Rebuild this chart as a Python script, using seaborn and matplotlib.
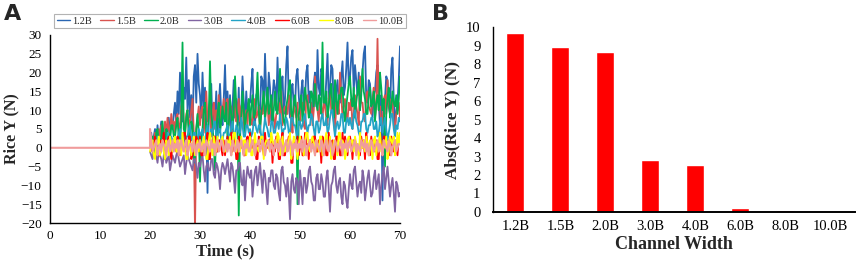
import numpy as np
import pandas as pd
import matplotlib
matplotlib.use("Agg")
import matplotlib.pyplot as plt
import seaborn as sns

# ---------------- data ----------------
series_names = ["1.2B", "1.5B", "2.0B", "3.0B", "4.0B", "6.0B", "8.0B", "10.0B"]
series_colors = ["#2A66B2", "#D9534F", "#00B050", "#8064A2", "#23A3C6", "#FF0000", "#FFFF00", "#F09C9C"]

t_start, t_end, n_pts = 20.0, 70.0, 201

rice_12B = [2, 4, 0, 3, 5, 1, 6, 2, 4, 7, 3, 5, 1, 6, 4, 8, 3, 7, 5, 9,
            12, 6, 15, 9, 20, 11, 7, 16, 13, 24, 10, 18, 8, 14, 5, 19, 22, 12, 25, 17,
            14, 8, 20, 11, 16, 6, -12, 9, 13, 17, 5, 12, 8, 15, 3, 11, 17, 9, 6, 13,
            22, 10, 15, 7, 14, 4, 11, 18, 8, 13, 6, 16, 2, 10, 19, 12, 7, 15, 9, 12,
            12, 17, 21, 8, 6, 14, 15, 10, 9, 19, 18, 11, 25, 14, 11, 20, 16, 7, 13, 18,
            16, 10, 24, 13, 10, 17, 19, 9, 13, 22, 27, 12, 8, 15, 17, 11, 11, 19, 21, 14,
            9, 15, 18, 10, 13, 20, 22, 12, 15, 9, 8, 17, 20, 11, 26, 16, 14, 21, 19, 12,
            11, 18, 25, 13, 16, 22, 21, 10, 7, 15, 18, 12, 12, 19, 23, 14, 16, 21, 28, 17,
            19, 24, 26, 15, 22, 18, 14, 20, 10, 16, 20, 25, 27, 13, 12, 18, 17, 11, 8, 14,
            15, 20, 22, 12, 6, 14, -14, 10, 13, 19, 18, 11, 9, 21, 24, 13, 5, 10, 12, 18,
            27]
rice_15B = [1, 3, 0, 2, 4, 1, 2, 5, 3, 6, 2, 4, 7, 3, 8, 5, 4, 9, 6, 7,
            4, 8, 9, 5, 6, 11, 12, 7, 3, 9, 10, 6, 7, 10, 13, 4, -22, 5, 8, 11,
            6, 10, 11, 4, 8, 15, 7, 9, 12, 3, 9, 12, 5, 10, 8, 14, 6, 11, 9, 13,
            8, 12, 13, 6, 10, 11, 4, 9, 14, 7, 9, 13, 7, 11, 12, 5, 8, 10, 6, 12,
            10, 7, 6, 12, 13, 8, 9, 11, 4, 10, 9, 14, 7, 11, 12, 6, 9, 13, 10, 8,
            5, 9, 10, 12, 8, 15, 6, 10, 11, 9, 9, 14, 13, 7, 4, 11, 10, 8, 12, 6,
            7, 11, 12, 6, 5, 13, 14, 9, 9, 12, 6, 10, 19, 13, 10, 7, 13, 11, 8, 12,
            11, 8, 6, 13, 15, 10, 9, 7, 4, 12, 12, 9, 20, 14, 8, 11, 13, 9, 7, 12,
            10, 13, 5, 9, 14, 11, 9, 6, 19, 12, 12, 8, 7, 14, 15, 11, 10, 9, 13, 16,
            8, 11, 29, 10, 11, 7, 6, 13, 14, 9, 18, 12, 9, 13, 12, 6, 5, 9, 10, 12,
            8]
rice_20B = [0, 2, 3, -1, -2, 4, 5, 1, 1, 3, 7, 2, -3, 5, 4, 0, 2, 6, 6, 3,
            3, 6, 8, 2, 1, 7, 28, 5, 4, 8, 10, 3, 2, 7, 6, -4, -3, 5, 9, 4,
            -9, 2, 5, 10, 12, 4, 3, 8, 23, 9, 6, 1, -6, 5, 9, 12, 4, 7, 11, 8,
            7, 12, 2, 6, 13, 9, 5, 10, 19, 11, 8, -18, 4, 8, 15, 10, 4, 9, 10, 13,
            6, 11, 14, 8, 9, 13, 20, 10, 5, 9, 12, 15, 8, 11, 16, 9, 11, 14, 7, 10,
            15, 10, 9, 14, 21, 12, 10, 7, 6, 11, 13, 16, 18, 9, 8, 12, 14, 10, -15, 9,
            11, 14, 7, 10, 16, 13, 12, 8, 9, 15, 14, 11, 17, 12, 10, 14, 13, 9, 28, 12,
            12, 15, 8, 11, 15, 17, 10, 8, 18, 13, 9, 14, 13, 16, 16, 10, 7, 11, 14, 17,
            19, 13, 11, 16, 8, 12, 15, 18, 10, 14, 21, 15, 13, 9, 9, 14, 16, 11, 12, 15,
            7, 12, 14, 10, 20, 16, 10, 13, -5, 9, 13, 16, 8, 11, 15, 12, 11, 14, 9, 13,
            19]
rice_30B = [-1, -2, -3, 0, 0, -2, -4, -1, -2, -3, -5, -2, -1, -4, -3, -2, -6, -4, -2, -3,
            -4, -2, -1, -3, -5, -4, -3, -2, -7, -4, -2, -3, -4, -5, -6, -3, -3, -5, -8, -4,
            -5, -3, -2, -6, -9, -5, -4, -6, -6, -3, -3, -7, -8, -4, -5, -7, -11, -6, -4, -5,
            -7, -5, -3, -6, -9, -4, -5, -8, -12, -6, -6, -4, -4, -9, -10, -6, -14, -8, -5, -7,
            -8, -6, -13, -9, -6, -5, -10, -7, -4, -8, -12, -6, -7, -11, -15, -8, -9, -6, -6, -10,
            -11, -7, -8, -12, -14, -6, -5, -9, -10, -13, -8, -12, -19, -9, -7, -11, -12, -8, -9, -15,
            -6, -10, -15, -8, -8, -12, -10, -6, -5, -9, -10, -14, -14, -8, -7, -11, -11, -7, -9, -13,
            -13, -8, -6, -11, -17, -10, -9, -6, -5, -10, -12, -9, -8, -13, -15, -9, -10, -14, -16, -11,
            -7, -10, -11, -6, -5, -9, -13, -10, -9, -12, -6, -8, -14, -11, -8, -6, -10, -13, -12, -8,
            -6, -11, -9, -7, -15, -10, -7, -5, -11, -8, -5, -9, -13, -10, -8, -12, -17, -9, -10, -13,
            -12]
rice_40B = [1, 0, -1, 2, 2, 0, 3, 1, -2, 1, 2, 3, 1, -1, 4, 2, 0, 3, 2, 1,
            3, 2, 1, 4, 5, 2, 2, 4, 0, 3, 3, 5, 6, 2, 2, 4, 4, 1, 2, 5,
            3, 4, 5, 2, 1, 4, 6, 3, 2, 5, 4, 6, 7, 3, 3, 5, 5, 2, 2, 4,
            4, 5, 6, 3, 3, 5, 7, 4, 2, 6, 5, 4, 4, 8, 6, 3, 3, 6, 6, 4,
            5, 3, 4, 7, 7, 5, 4, 6, 6, 3, 2, 5, 8, 6, 5, 3, 3, 7, 7, 4,
            4, 6, 7, 5, 9, 6, 3, 5, 5, 8, 7, 4, 4, 8, 8, 6, 6, 4, 3, 7,
            7, 5, 6, 8, 9, 6, 4, 6, 6, 9, 8, 5, 3, 7, 7, 4, 5, 8, 9, 6,
            6, 8, 4, 5, 8, 10, 10, 6, 3, 6, 7, 5, 6, 9, 9, 4, 4, 7, 8, 6,
            8, 6, 5, 9, 10, 7, 6, 4, 3, 7, 7, 9, 9, 5, 4, 6, 6, 8, 8, 5,
            5, 7, 3, 4, 7, 8, 4, 6, 8, 5, 2, 4, 6, 9, 9, 5, 3, 6, 5, 8,
            7]
rice_60B = [2, 0, -1, 1, 3, 1, 0, -2, -2, 2, 1, 4, 0, -1, 2, 3, -1, -3, 1, 2,
            1, -1, 3, 2, -2, 0, 2, 4, 4, -1, -1, 3, 3, -3, -2, 1, 1, 3, 2, -1,
            3, -2, -2, 2, 0, 1, 4, -3, -3, 1, 1, 3, 3, -1, -1, 2, 2, 0, -2, 2,
            -2, 1, 3, 0, 0, 4, -1, 2, 2, -3, -3, 3, 1, 0, 1, -2, -2, 2, 3, 0,
            4, 0, 0, 2, 2, -3, -3, 3, 1, 1, 1, -2, 4, 0, 0, 2, 2, 3, -4, 1,
            -1, 3, 3, -3, -3, 2, 4, -2, -2, 1, 1, 3, 3, -4, -4, 2, 2, 0, 3, -2,
            0, 3, -2, -2, 4, 1, 1, -3, 2, 2, 0, 3, 3, -1, -1, 2, 2, -4, 3, 1,
            1, -2, -2, 4, 0, 0, 2, -3, -3, 3, 3, 1, -2, -2, 4, 0, 3, 1, -2, 2,
            3, 1, -3, 2, 2, 0, 1, -2, -2, 3, 0, 2, -3, 4, 1, -1, -2, 3, 0, 2,
            -1, 2, -3, -3, 4, 1, -2, 3, 3, 0, -1, 2, -2, 3, 1, -1, 2, 0, -2, 3,
            3]
rice_80B = [-1, 1, 2, -2, -3, 1, 1, 3, -2, 0, 2, -1, -3, 2, 1, -2, 3, 1, -1, 2,
            3, -1, -1, 2, 2, -2, 4, 0, 0, -3, -3, 2, 1, -2, 1, 3, -2, 0, 2, -1,
            2, 1, -1, 3, 0, -3, -3, 2, 4, 1, -2, 3, 1, -1, 3, 0, 1, 2, 3, -1,
            -1, 2, 2, 0, 3, -2, 1, 4, 4, -1, 2, 0, -1, 3, 0, 2, 2, -2, 1, 0,
            3, -2, -2, 1, 4, 0, 0, -1, 2, 3, 3, -3, 1, 2, 2, 0, -1, 4, 2, 1,
            2, 0, 4, 3, -2, 1, 3, -1, -1, 2, 0, 2, 4, -3, -1, 3, 2, 0, -3, 1,
            3, 1, 1, -2, 2, 4, 4, 0, -1, 2, 3, 1, -2, 2, 1, -1, 3, 3, -2, 0,
            2, 4, 0, -1, 3, -3, -1, 2, 1, 1, -2, 4, 4, 0, 2, 1, -3, -1, 2, 3,
            0, 2, 2, -1, 3, 1, 1, -3, 4, 0, 0, 2, -1, 3, 1, -2, 2, 1, -3, 2,
            3, -2, 1, 1, 4, -1, -1, 2, 0, 3, -3, -1, 3, 2, 1, 3, -2, 0, 4, 1,
            4]
rice_100B_pre = [0, 0]          # flat line from t=0 to t=20
rice_100B = [5, 2, -1, 0, 1, 2, -2, 0, 1, -1, 2, 1, 0, -2, 1, 2, -1, 0, 2, -1,
             1, 0, 2, -2, 1, 2, 0, -1, 1, 2, -2, 0, 1, 1, -1, 2, 0, -2, 1, 0,
             2, -1, 0, 1, -2, 2, 1, 0, -1, 2, 0, 1, -2, 1, 2, -1, 0, 2, 1, -1,
             0, 2, -1, 1, 0, -2, 2, 1, -1, 0, 2, -1, 1, 2, 0, -2, 1, 0, 2, -1,
             -1, 1, 2, 0, -2, 1, 1, 2, -1, 0, 2, 1, -2, 0, 1, 2, -1, 1, 0, -2,
             2, 0, 1, -1, 2, 1, -2, 0, 1, 2, -1, 0, 2, 1, -2, 1, 0, 2, -1, 1,
             0, 2, -1, 1, 2, -2, 0, 1, 2, -1, 1, 0, -2, 2, 1, 0, -1, 2, 1, -2,
             1, 2, 0, -1, 2, 1, -2, 0, 2, 1, -1, 0, 1, 2, -2, 1, 0, 2, -1, 1,
             2, -1, 0, 1, 2, -2, 1, 0, -1, 2, 1, 0, 2, -1, 1, -2, 0, 2, 1, -1,
             0, 1, 2, -1, 1, 0, -2, 2, 1, 0, -1, 2, 1, -2, 0, 1, 2, -1, 0, 1,
             1]

bar_categories = ["1.2B", "1.5B", "2.0B", "3.0B", "4.0B", "6.0B", "8.0B", "10.0B"]
bar_values = [9.68, 8.92, 8.67, 2.83, 2.54, 0.22, 0.09, 0.01]

# ---------------- build long table ----------------
grid = np.linspace(t_start, t_end, n_pts)
all_series = [rice_12B, rice_15B, rice_20B, rice_30B, rice_40B, rice_60B, rice_80B, rice_100B]
frames = []
for name, vals in zip(series_names, all_series):
    t = list(grid)
    v = list(vals)
    if name == "10.0B":
        t = [0.0, 20.0] + t
        v = rice_100B_pre + v
    frames.append(pd.DataFrame({"Time": t, "Rice": v, "Series": name}))
df = pd.concat(frames, ignore_index=True)

# ---------------- figure ----------------
sns.set_theme(style="white")
plt.rcParams["font.family"] = ["Liberation Serif", "DejaVu Serif"]
plt.rcParams["axes.linewidth"] = 1.0

fig = plt.figure(figsize=(8.58, 2.69), dpi=100)
axA = fig.add_axes([0.0583, 0.1710, 0.4079, 0.6989])
axB = fig.add_axes([0.5746, 0.2119, 0.4219, 0.6877])

palette = dict(zip(series_names, series_colors))
for name in series_names:
    sub = df[df["Series"] == name]
    sns.lineplot(data=sub, x="Time", y="Rice", color=palette[name], estimator=None,
                 sort=False, lw=1.3 if name != "10.0B" else 1.5, ax=axA, label=name)

axA.set_xlim(0, 70)
axA.set_ylim(-20, 30)
axA.set_xticks(range(0, 71, 10))
axA.set_yticks(range(-20, 31, 5))
axA.set_xlabel("Time (s)", fontsize=12, fontweight="bold", labelpad=1)
axA.set_ylabel("Rice Y (N)", fontsize=11.5, fontweight="bold", labelpad=1)
axA.tick_params(axis="both", labelsize=9.5, colors="black", direction="out", length=3, width=1, pad=2)
axA.tick_params(axis="y", length=0, pad=6)
for s in ["top", "right"]:
    axA.spines[s].set_visible(False)
for s in ["left", "bottom"]:
    axA.spines[s].set_color("black")

handles, labels = axA.get_legend_handles_labels()
if axA.get_legend():
    axA.get_legend().remove()
leg = fig.legend(handles, labels, loc="center", bbox_to_anchor=(0.268, 0.922), ncol=8,
                 fontsize=7.5, frameon=True, fancybox=False, handlelength=1.3,
                 handletextpad=0.2, columnspacing=0.8, borderpad=0.25,
                 edgecolor="#A0A0A0")
leg.get_frame().set_linewidth(0.8)
for line in leg.get_lines():
    line.set_linewidth(1.0)

# Panel B
sns.barplot(x=bar_categories, y=bar_values, color="#FF0000", width=0.4,
            saturation=1, ax=axB)
axB.set_xlim(-0.5, 7.55)
axB.set_ylim(0, 10)
axB.set_yticks(range(0, 11))
axB.set_xlabel("Channel Width", fontsize=13, fontweight="bold", labelpad=2)
axB.set_ylabel("Abs(Rice Y) (N)", fontsize=12.5, fontweight="bold", labelpad=4)
axB.tick_params(axis="both", labelsize=10.5, colors="black")
axB.tick_params(axis="y", direction="out", length=3, width=1, pad=6)
axB.tick_params(axis="x", length=0, pad=6)
for s in ["top", "right"]:
    axB.spines[s].set_visible(False)
for s in ["left", "bottom"]:
    axB.spines[s].set_color("black")
axB.spines["bottom"].set_linewidth(1.4)

fig.text(0.004, 0.985, "A", fontsize=16, fontweight="bold", family="DejaVu Sans", va="top", ha="left")
fig.text(0.503, 0.985, "B", fontsize=16, fontweight="bold", family="DejaVu Sans", va="top", ha="left")

fig.savefig("out.png", dpi=100)
